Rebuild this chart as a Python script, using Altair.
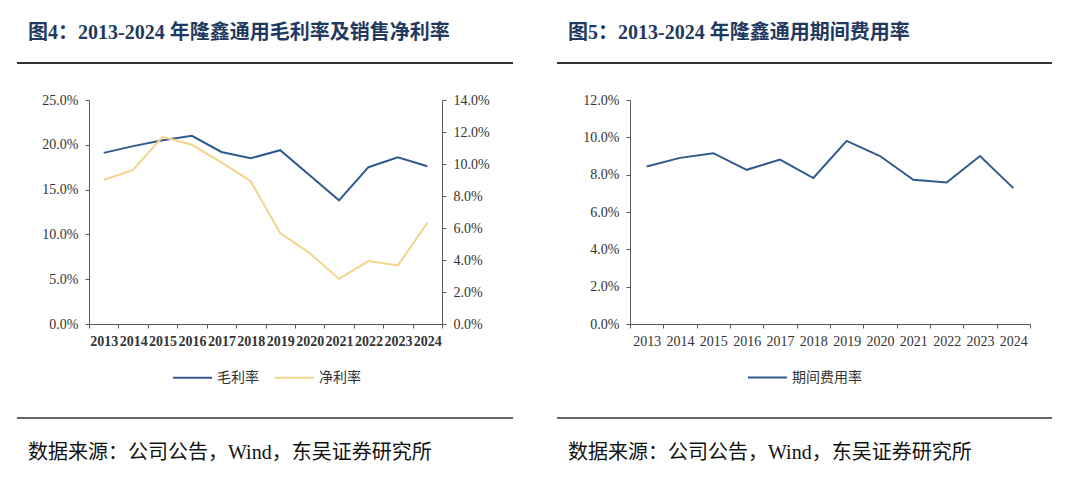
import altair as alt
import pandas as pd

years = ["2013", "2014", "2015", "2016", "2017", "2018", "2019", "2020", "2021", "2022", "2023", "2024"]
gross_margin = [0.191, 0.1985, 0.205, 0.210, 0.192, 0.185, 0.194, 0.166, 0.138, 0.175, 0.186, 0.176]
net_margin = [0.090, 0.0963, 0.117, 0.112, 0.101, 0.0892, 0.0568, 0.0443, 0.0282, 0.0393, 0.0366, 0.0631]
expense_ratio = [0.0844, 0.089, 0.0915, 0.0826, 0.0881, 0.0782, 0.0981, 0.090, 0.0773, 0.0758, 0.090, 0.0728]

left_title = "图4：2013-2024 年隆鑫通用毛利率及销售净利率"
right_title = "图5：2013-2024 年隆鑫通用期间费用率"
source_text = "数据来源：公司公告，Wind，东吴证券研究所"
left_ticks = [0, 0.05, 0.10, 0.15, 0.20, 0.25]
right_ticks = [0, 0.02, 0.04, 0.06, 0.08, 0.10, 0.12, 0.14]
exp_ticks = [0, 0.02, 0.04, 0.06, 0.08, 0.10, 0.12]
series_names = ["毛利率", "净利率"]
exp_name = "期间费用率"

BLUE = "#2f5a8f"
YELLOW = "#f2d58a"
AXIS = "#595959"
LABEL = "#333333"
TITLE_C = "#1f3a60"
SERIF_CJK = "Liberation Serif, Noto Sans CJK SC"
CJK = "Noto Sans CJK SC"

df = pd.DataFrame({
    "year": years, "gross": gross_margin, "net": net_margin, "exp": expense_ratio,
    "s_gross": [series_names[0]] * len(years),
    "s_net": [series_names[1]] * len(years),
    "s_exp": [exp_name] * len(years),
})


def x_enc(weight):
    return alt.X(
        "year:N",
        sort=years,
        scale=alt.Scale(type="band", paddingInner=0, paddingOuter=0),
        axis=alt.Axis(
            title=None, labelAngle=0, tickBand="extent", labelFont="Liberation Serif",
            labelFontSize=14, labelColor=LABEL, labelFontWeight=weight, domainColor=AXIS,
            tickColor=AXIS, tickSize=4, labelPadding=6.5, labelOverlap=False, grid=False,
        ),
    )


def y_axis(values, orient):
    return alt.Axis(
        title=None, format=".1%", values=values, orient=orient, labelFont="Liberation Serif",
        labelFontSize=14, labelColor=LABEL, domainColor=AXIS, tickColor=AXIS, tickSize=4,
        labelPadding=7, grid=False,
    )


def legend(x):
    return alt.Legend(
        title=None, orient="none", legendX=x, legendY=257, direction="horizontal",
        symbolType="stroke", symbolSize=1521, symbolStrokeWidth=2, labelFont=CJK,
        labelFontSize=14, labelColor=LABEL, labelOffset=4, columnPadding=12, padding=0,
    )


one = pd.DataFrame({"t": [0]})


def decorations(title, rule_x1, rule_x2, text_x):
    t = alt.Chart(pd.DataFrame({"t": [title]})).mark_text(
        align="left", baseline="middle", font=SERIF_CJK, fontSize=20, fontWeight="bold", color=TITLE_C
    ).encode(text="t:N", x=alt.value(text_x), y=alt.value(-67))
    r1 = alt.Chart(one).mark_rule(color="#333333", strokeWidth=2).encode(
        x=alt.value(rule_x1), x2=alt.value(rule_x2), y=alt.value(-37))
    r2 = alt.Chart(one).mark_rule(color="#333333", strokeWidth=1.5).encode(
        x=alt.value(rule_x1), x2=alt.value(rule_x2), y=alt.value(318))
    f = alt.Chart(pd.DataFrame({"t": [source_text]})).mark_text(
        align="left", baseline="middle", font=SERIF_CJK, fontSize=20, color="#111111"
    ).encode(text="t:N", x=alt.value(text_x), y=alt.value(353))
    return [t, r1, r2, f]


color_scale = alt.Scale(domain=series_names, range=[BLUE, YELLOW])

gross_line = alt.Chart(df).mark_line(strokeWidth=2).encode(
    x=x_enc("bold"),
    y=alt.Y("gross:Q", scale=alt.Scale(domain=[0, 0.25]), axis=y_axis(left_ticks, "left")),
    color=alt.Color("s_gross:N", scale=color_scale, legend=legend(83)),
)
net_line = alt.Chart(df).mark_line(strokeWidth=2).encode(
    x=x_enc("bold"),
    y=alt.Y("net:Q", scale=alt.Scale(domain=[0, 0.14]), axis=y_axis(right_ticks, "right")),
    color=alt.Color("s_net:N", scale=color_scale, legend=legend(83)),
)

left = alt.layer(gross_line, net_line, *decorations(left_title, -72, 424, -61)).resolve_scale(
    y="independent").properties(width=353, height=224)

exp_line = alt.Chart(df).mark_line(strokeWidth=2).encode(
    x=x_enc("normal"),
    y=alt.Y("exp:Q", scale=alt.Scale(domain=[0, 0.12]), axis=y_axis(exp_ticks, "left")),
    color=alt.Color("s_exp:N", scale=alt.Scale(domain=[exp_name], range=[BLUE]), legend=legend(117)),
)

right = alt.layer(exp_line, *decorations(right_title, -73, 422, -62)).properties(width=400, height=224)

chart = alt.hconcat(left, right, spacing=42).resolve_scale(color="independent").configure(
    padding={"left": 8, "top": 15, "right": 0, "bottom": 0},
    background="white",
).configure_view(stroke=None)

chart.save("out.html", embed_options={"renderer": "svg", "actions": False})
